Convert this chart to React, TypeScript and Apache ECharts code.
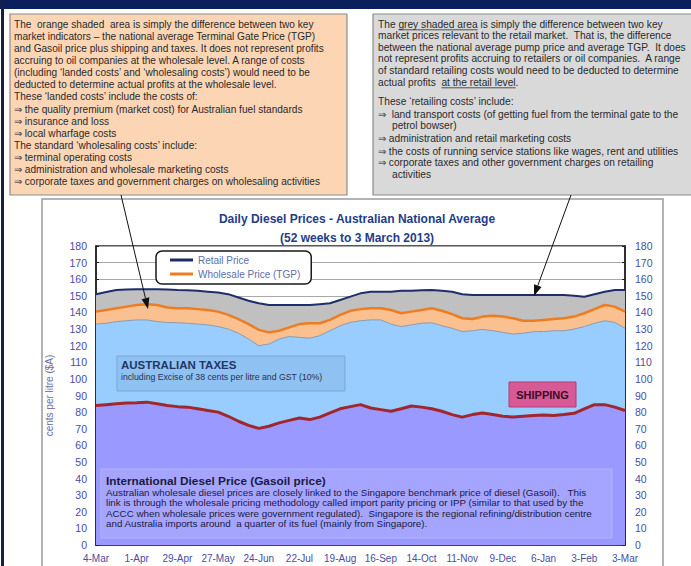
import React, { useEffect, useRef } from "react";
import * as echarts from "echarts";

const weekLabels = [
  "4-Mar", "11-Mar", "18-Mar", "25-Mar", "1-Apr", "8-Apr", "15-Apr", "22-Apr", "29-Apr",
  "6-May", "13-May", "20-May", "27-May", "3-Jun", "10-Jun", "17-Jun", "24-Jun",
  "1-Jul", "8-Jul", "15-Jul", "22-Jul", "29-Jul", "5-Aug", "12-Aug", "19-Aug", "26-Aug",
  "2-Sep", "9-Sep", "16-Sep", "23-Sep", "30-Sep", "7-Oct", "14-Oct", "21-Oct", "28-Oct",
  "4-Nov", "11-Nov", "18-Nov", "25-Nov", "2-Dec", "9-Dec", "16-Dec", "23-Dec", "30-Dec",
  "6-Jan", "13-Jan", "20-Jan", "27-Jan", "3-Feb", "10-Feb", "17-Feb", "24-Feb", "3-Mar",
];

// cents per litre, weekly readings
const retailPrice = [
  151, 152.3, 153.5, 153.8, 154, 154, 154, 153.8, 153.5, 153.3, 153, 152.5, 152, 151, 149,
  147, 145.5, 144.5, 144.5, 144.5, 144.5, 144.5, 145, 145.5, 147.5, 149.5, 151.5, 152.5,
  152.5, 152.5, 153, 153, 153.3, 153.5, 153, 152.5, 151, 150.5, 150.5, 150.5, 150.5, 150.5,
  150.5, 150.5, 150.5, 150.5, 150.5, 150, 149.5, 151, 152.5, 153.5, 153.5,
];
const wholesalePrice = [
  140.5, 141.5, 142.5, 143.5, 144.5, 145, 144.5, 143, 142.5, 142.5, 142, 141.5, 140.5, 138.5,
  136, 133, 129.5, 128, 129, 131, 133, 133.5, 133.5, 135.5, 138.5, 141, 142, 142.5, 142.5,
  141.5, 139.5, 140.5, 141.5, 142.5, 141, 139, 136.5, 136, 137.5, 138, 137.5, 136.5, 135, 135,
  135.5, 136, 136.5, 137.5, 139.5, 142, 144.5, 143.5, 140.5,
];
const taxesTop = [
  133, 133.5, 134.5, 135, 135.5, 135.5, 134.5, 134, 133.8, 133.5, 133, 132.5, 131.5, 130,
  127.5, 124, 120, 121, 124, 125.5, 125, 124.5, 126, 129, 132, 134, 135, 135.5, 135.5, 133,
  131.5, 132.5, 133.5, 133.8, 132, 130.5, 128.5, 129, 129.8, 129, 128, 127, 127.5, 128.4,
  128.5, 129, 129, 130, 131.5, 133.5, 135, 134, 130.5,
];
const gasoilPrice = [
  84, 84.5, 85, 85.5, 85.7, 86, 85, 84, 83.3, 83, 82, 81, 80, 77.5, 74.5, 72, 70.2, 71.5,
  73.5, 75, 76.5, 75.5, 77, 79.5, 82, 83.3, 84.5, 82.5, 81.5, 80.5, 82, 83.7, 83, 82, 80.5,
  78.5, 77, 78.5, 79.5, 78.5, 77.5, 77, 77.5, 78, 78.3, 78, 78.5, 79.3, 82, 84.5, 84.5, 83, 81,
];

const orangeNote = [
  "The  orange shaded  area is simply the difference between two key",
  "market indicators \u2013 the national average Terminal Gate Price (TGP)",
  "and Gasoil price plus shipping and taxes. It does not represent profits",
  "accruing to oil companies at the wholesale level. A range of costs",
  "(including \u2018landed costs\u2019 and \u2018wholesaling costs\u2019) would need to be",
  "deducted to determine actual profits at the wholesale level.",
  "These \u2018landed costs\u2019 include the costs of:",
  "\u21d2 the quality premium (market cost) for Australian fuel standards",
  "\u21d2 insurance and loss",
  "\u21d2 local wharfage costs",
  "The standard \u2018wholesaling costs\u2019 include:",
  "\u21d2 terminal operating costs",
  "\u21d2 administration and wholesale marketing costs",
  "\u21d2 corporate taxes and government charges on wholesaling activities",
];

const greyNoteTop = [
  "The grey shaded area is simply the difference between two key",
  "market prices relevant to the retail market.  That is, the difference",
  "between the national average pump price and average TGP.  It does",
  "not represent profits accruing to retailers or oil companies.  A range",
  "of standard retailing costs would need to be deducted to determine",
  "actual profits  at the retail level.",
];
const greyNoteBottom = [
  ["These \u2018retailing costs\u2019 include:", 0],
  ["\u21d2  land transport costs (of getting fuel from the terminal gate to the", 0],
  ["petrol bowser)", 1],
  ["\u21d2 administration and retail marketing costs", 0],
  ["\u21d2 the costs of running service stations like wages, rent and utilities", 0],
  ["\u21d2 corporate taxes and other government charges on retailing", 0],
  ["activities", 1],
];

const gasoilNote = [
  "Australian wholesale diesel prices are closely linked to the Singapore benchmark price of diesel (Gasoil).   This",
  "link is through the wholesale pricing methodology called import parity pricing or IPP (similar to that used by the",
  "ACCC when wholesale prices were government regulated).  Singapore is the regional refining/distribution centre",
  "and Australia imports around  a quarter of its fuel (mainly from Singapore).",
];

const FF = '"Liberation Sans", Arial, sans-serif';

function txt(text: string, x: number, y: number, size: number, fill: string, weight = "normal", align = "left") {
  return {
    type: "text",
    x,
    y,
    z: 100,
    silent: true,
    style: {
      text,
      fill,
      fontSize: size,
      fontFamily: FF,
      fontWeight: weight,
      align,
      textAlign: align,
      verticalAlign: "middle",
      textVerticalAlign: "middle",
    },
  };
}

function arrow(x1: number, y1: number, x2: number, y2: number) {
  const dx = x2 - x1;
  const dy = y2 - y1;
  const L = Math.hypot(dx, dy);
  const ux = dx / L;
  const uy = dy / L;
  const hl = 11;
  const hw = 4;
  const bx = x2 - ux * hl;
  const by = y2 - uy * hl;
  const px = -uy;
  const py = ux;
  return [
    { type: "line", z: 101, silent: true, shape: { x1, y1, x2: bx, y2: by }, style: { stroke: "#111", lineWidth: 1 } },
    {
      type: "polygon",
      z: 101,
      silent: true,
      shape: { points: [[x2, y2], [bx + px * hw, by + py * hw], [bx - px * hw, by - py * hw]] },
      style: { fill: "#111" },
    },
  ];
}

export default function App() {
  const ref = useRef<HTMLDivElement>(null);

  useEffect(() => {
    if (!ref.current) return;
    const chart = echarts.init(ref.current, null, { renderer: "svg" });

    const canvas = document.createElement("canvas");
    const ctx = canvas.getContext("2d")!;
    const measure = (s: string, size: number) => {
      ctx.font = `${size}px ${FF}`;
      return ctx.measureText(s).width;
    };

    const noteSize = 10.1;
    const greySize = 10.2;
    const graphics: any[] = [];

    // page decorations
    graphics.push({ type: "rect", z: -10, silent: true, shape: { x: 0, y: 0, width: 691, height: 9 }, style: { fill: "#0b1f5c" } });
    graphics.push({ type: "rect", z: -10, silent: true, shape: { x: 1, y: 0, width: 3, height: 566 }, style: { fill: "#18203e" } });
    // chart frame
    graphics.push({
      type: "rect", z: -10, silent: true,
      shape: { x: 42, y: 199, width: 621, height: 420 },
      style: { fill: "#ffffff", stroke: "#9a9a9a", lineWidth: 1.5 },
    });

    // orange note
    graphics.push({
      type: "rect", z: 99, silent: true,
      shape: { x: 10, y: 14, width: 337, height: 181 },
      style: { fill: "#fcd5b5", stroke: "#8c8c8c", lineWidth: 1.2 },
    });
    orangeNote.forEach((line, i) => graphics.push(txt(line, 14, 24 + i * 12.15, noteSize, "#2a2a2a")));

    // grey note
    graphics.push({
      type: "rect", z: 99, silent: true,
      shape: { x: 373, y: 14, width: 340, height: 181 },
      style: { fill: "#d9d9d9", stroke: "#8c8c8c", lineWidth: 1.2 },
    });
    greyNoteTop.forEach((line, i) => graphics.push(txt(line, 378, 24 + i * 11.6, greySize, "#2a2a2a")));
    const gy = [101.5, 114, 125.5, 138.5, 151, 162.5, 174];
    greyNoteBottom.forEach(([line, indent], i) =>
      graphics.push(txt(line as string, indent ? 392 : 378, gy[i], greySize, "#2a2a2a"))
    );
    // underlines
    {
      const u1 = 378 + measure("The ", greySize);
      const u1e = u1 + measure("grey shaded area", greySize);
      graphics.push({ type: "line", z: 101, silent: true, shape: { x1: u1, y1: 29.8, x2: u1e, y2: 29.8 }, style: { stroke: "#2a2a2a", lineWidth: 0.8 } });
      const u2 = 378 + measure("actual profits  ", greySize);
      const u2e = u2 + measure("at the retail level", greySize);
      const yy = 24 + 5 * 11.6 + 5.8;
      graphics.push({ type: "line", z: 101, silent: true, shape: { x1: u2, y1: yy, x2: u2e, y2: yy }, style: { stroke: "#2a2a2a", lineWidth: 0.8 } });
    }

    // arrows
    graphics.push(...arrow(121, 195, 148, 309));
    graphics.push(...arrow(571, 195, 534, 296));

    // Australian taxes box
    graphics.push({
      type: "rect", z: 99, silent: true,
      shape: { x: 117, y: 356, width: 228, height: 35 },
      style: { fill: "#8fc1f3", stroke: "#79a7d9", lineWidth: 1 },
    });
    graphics.push(txt("AUSTRALIAN TAXES", 121, 364.5, 11.5, "#1f3864", "bold"));
    graphics.push(txt("including Excise of 38 cents per litre and GST (10%)", 121, 377, 8.7, "#2a3050"));

    // Shipping box
    graphics.push({
      type: "rect", z: 99, silent: true,
      shape: { x: 509, y: 382, width: 67, height: 25 },
      style: { fill: "#d65a95", stroke: "#b23d74", lineWidth: 1 },
    });
    graphics.push(txt("SHIPPING", 542.5, 394.5, 11, "#3d0c28", "bold", "center"));

    // Gasoil box
    graphics.push({
      type: "rect", z: 99, silent: true,
      shape: { x: 101, y: 469, width: 511, height: 69 },
      style: { fill: "#a5a5ff", stroke: "#b3b3ff", lineWidth: 1 },
    });
    graphics.push(txt("International Diesel Price (Gasoil price)", 106, 480.5, 11.8, "#1a1a40", "bold"));
    gasoilNote.forEach((line, i) => graphics.push(txt(line, 106, 492.5 + i * 10.4, 9.8, "#1a1a40")));

    const axisColor = "#4b4ba6";

    chart.setOption({
      animation: false,
      title: {
        text: "Daily Diesel Prices - Australian National Average\n(52 weeks to 3 March 2013)",
        left: 352,
        top: 204,
        textAlign: "center",
        textStyle: { fontSize: 12, fontWeight: "bold", color: "#1f3c8a", lineHeight: 19, fontFamily: FF },
      },
      legend: {
        data: ["Retail Price", "Wholesale Price (TGP)"],
        orient: "vertical",
        left: 156,
        top: 251,
        icon: "rect",
        itemWidth: 23,
        itemHeight: 3,
        itemGap: 4,
        padding: [4, 11, 5, 14],
        backgroundColor: "#ffffff",
        borderColor: "#1a1a1a",
        borderWidth: 1.5,
        borderRadius: 6,
        selectedMode: false,
        textStyle: { color: "#6070a8", fontSize: 10, fontFamily: FF },
      },
      grid: {
        left: 96,
        right: 66,
        top: 246,
        bottom: 21,
        show: true,
        backgroundColor: "#ffffff",
        borderColor: "#222",
        borderWidth: 1.5,
      },
      xAxis: {
        type: "category",
        data: weekLabels,
        boundaryGap: false,
        axisLine: { lineStyle: { color: "#222", width: 1.5 } },
        axisTick: { inside: true, interval: 0, length: 3, lineStyle: { color: "#222" } },
        axisLabel: { interval: 3, color: axisColor, fontSize: 10, fontFamily: FF, margin: 8 },
        splitLine: { show: false },
      },
      yAxis: [
        {
          type: "value",
          min: 0,
          max: 180,
          interval: 10,
          name: "cents per litre ($A)",
          nameLocation: "middle",
          nameGap: 42,
          nameTextStyle: { color: "#6a6fa6", fontSize: 10, fontFamily: FF },
          axisLine: { show: true, lineStyle: { color: "#222", width: 1.5 } },
          axisTick: { show: true, inside: true, length: 3, lineStyle: { color: "#222" } },
          axisLabel: { color: axisColor, fontSize: 10.5, fontFamily: FF, margin: 9 },
          splitLine: { show: true, lineStyle: { color: "#a8a8a8", width: 1 } },
        },
        {
          type: "value",
          position: "right",
          min: 0,
          max: 180,
          interval: 10,
          axisLine: { show: true, lineStyle: { color: "#222", width: 1.5 } },
          axisTick: { show: true, inside: true, length: 3, lineStyle: { color: "#222" } },
          axisLabel: { color: axisColor, fontSize: 10.5, fontFamily: FF, margin: 10 },
          splitLine: { show: false },
        },
      ],
      series: [
        {
          name: "Retail Price",
          type: "line",
          data: retailPrice,
          symbol: "none",
          itemStyle: { color: "#1f2d6b" },
          lineStyle: { color: "#1f2d6b", width: 2 },
          areaStyle: { color: "#c0c0c0", opacity: 1 },
        },
        {
          name: "Wholesale Price (TGP)",
          type: "line",
          data: wholesalePrice,
          symbol: "none",
          itemStyle: { color: "#ee7d22" },
          lineStyle: { color: "#ee7d22", width: 2.5 },
          areaStyle: { color: "#fac08f", opacity: 1 },
        },
        {
          name: "Australian Taxes",
          type: "line",
          data: taxesTop,
          symbol: "none",
          itemStyle: { color: "#8c9cb6" },
          lineStyle: { color: "#8c9cb6", width: 1 },
          areaStyle: { color: "#99ccff", opacity: 1 },
        },
        {
          name: "International Diesel Price (Gasoil price)",
          type: "line",
          data: gasoilPrice,
          symbol: "none",
          itemStyle: { color: "#a3262c" },
          lineStyle: { color: "#a3262c", width: 3 },
          areaStyle: { color: "#9999ff", opacity: 1 },
        },
      ],
      graphic: { elements: graphics },
    });

    return () => chart.dispose();
  }, []);

  return (
    <div
      ref={ref}
      style={{ position: "absolute", left: 0, top: 0, width: 691, height: 566, background: "#ffffff" }}
    />
  );
}
